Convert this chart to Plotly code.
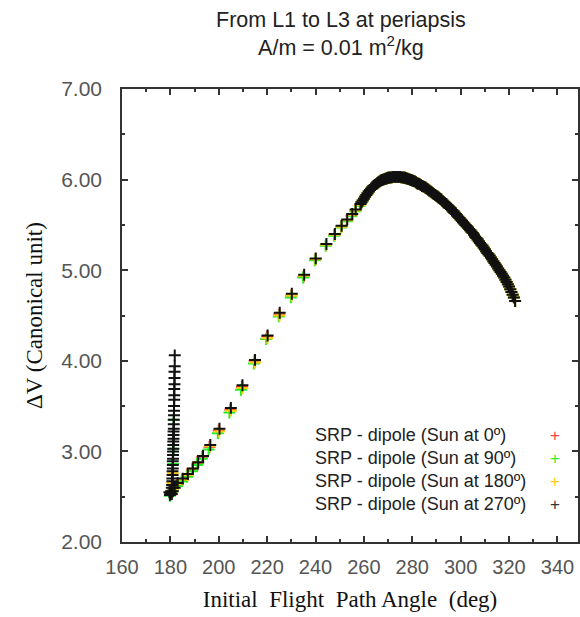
import plotly.graph_objects as go

# ---- data ----
# shared dense arc (all four Sun positions overlap here)
arc_x = [259.0, 259.5, 260.0, 260.5, 261.0, 261.5, 262.0, 262.5, 263.0, 263.5, 264.0, 264.5,
         265.0, 265.5, 266.0, 266.5, 267.0, 267.5, 268.0, 268.5, 269.0, 269.5, 270.0, 270.5,
         271.0, 271.5, 272.0, 272.5, 273.0, 273.5, 274.0, 274.5, 275.0, 275.5, 276.0, 276.5,
         277.0, 277.5, 278.0, 278.5, 279.0, 279.5, 280.0, 280.5, 281.0, 281.5, 282.0, 282.5,
         283.0, 283.5, 284.0, 284.5, 285.0, 285.5, 286.0, 286.5, 287.0, 287.5, 288.0, 288.5,
         289.0, 289.5, 290.0, 290.5, 291.0, 291.5, 292.0, 292.5, 293.0, 293.5, 294.0, 294.5,
         295.0, 295.5, 296.0, 296.5, 297.0, 297.5, 298.0, 298.5, 299.0, 299.5, 300.0, 300.5,
         301.0, 301.5, 302.0, 302.5, 303.0, 303.5, 304.0, 304.5, 305.0, 305.5, 306.0, 306.5,
         307.0, 307.5, 308.0, 308.5, 309.0, 309.5, 310.0, 310.5, 311.0, 311.5, 312.0, 312.5,
         313.0, 313.5, 314.0, 314.5, 315.0, 315.5, 316.0, 316.5, 317.0, 317.5, 318.0, 318.5,
         319.0, 319.5, 320.0, 320.5, 321.0, 321.5, 322.0, 322.5]
arc_y = [5.750, 5.770, 5.790, 5.810, 5.830, 5.850, 5.870, 5.885, 5.900, 5.915, 5.930, 5.940,
         5.950, 5.960, 5.970, 5.980, 5.990, 5.995, 6.000, 6.005, 6.010, 6.015, 6.020, 6.020,
         6.025, 6.025, 6.030, 6.030, 6.030, 6.030, 6.030, 6.030, 6.030, 6.025, 6.025, 6.020,
         6.020, 6.015, 6.010, 6.005, 6.000, 5.995, 5.990, 5.985, 5.980, 5.970, 5.960, 5.955,
         5.950, 5.940, 5.930, 5.925, 5.920, 5.910, 5.900, 5.890, 5.880, 5.870, 5.860, 5.850,
         5.840, 5.830, 5.820, 5.810, 5.800, 5.790, 5.780, 5.765, 5.750, 5.740, 5.730, 5.715,
         5.700, 5.690, 5.680, 5.665, 5.650, 5.635, 5.620, 5.605, 5.590, 5.575, 5.560, 5.545,
         5.530, 5.515, 5.500, 5.485, 5.470, 5.455, 5.440, 5.425, 5.410, 5.390, 5.370, 5.355,
         5.340, 5.320, 5.300, 5.285, 5.270, 5.250, 5.230, 5.210, 5.190, 5.175, 5.160, 5.140,
         5.120, 5.100, 5.080, 5.060, 5.040, 5.020, 5.000, 4.980, 4.960, 4.940, 4.920, 4.895,
         4.870, 4.845, 4.820, 4.790, 4.760, 4.730, 4.700, 4.660]

# rising branch, per series
red_x = [180.0, 180.4, 181.0, 182.8, 184.9, 187.0, 189.1, 191.3, 193.2, 196.2, 200.0,
         204.8, 209.6, 214.8, 220.0, 225.0, 230.0, 235.1, 239.9, 244.3, 247.8, 250.6,
         253.0, 255.0, 256.5, 258.4]
red_y = [2.52, 2.55, 2.58, 2.63, 2.68, 2.74, 2.80, 2.87, 2.94, 3.05, 3.23, 3.46, 3.71,
         4.00, 4.27, 4.51, 4.72, 4.93, 5.12, 5.28, 5.39, 5.48, 5.55, 5.61, 5.66, 5.72]

green_x = [179.8, 180.3, 180.9, 182.6, 184.7, 186.8, 189.0, 191.0, 193.0, 195.8, 199.6,
           204.4, 209.2, 214.5, 219.6, 224.8, 229.8, 234.9, 239.7, 244.2, 247.7, 250.5,
           252.9, 254.9, 256.4, 258.3, 181.4, 181.3, 181.1]
green_y = [2.51, 2.54, 2.57, 2.62, 2.67, 2.72, 2.78, 2.85, 2.92, 3.02, 3.20, 3.43, 3.68,
           3.97, 4.24, 4.49, 4.70, 4.92, 5.11, 5.27, 5.38, 5.47, 5.54, 5.60, 5.65, 5.71,
           3.35, 3.03, 2.86]

yellow_x = [180.1, 180.5, 181.1, 182.9, 185.0, 187.1, 189.2, 191.4, 193.4, 196.4, 200.2,
            205.0, 209.8, 215.0, 220.1, 225.1, 230.1, 235.2, 240.0, 244.4, 247.9, 250.7,
            253.0, 255.1, 256.5, 258.5, 181.0, 180.8]
yellow_y = [2.53, 2.56, 2.59, 2.64, 2.69, 2.74, 2.81, 2.88, 2.95, 3.06, 3.22, 3.45, 3.70,
            3.98, 4.25, 4.50, 4.72, 4.94, 5.12, 5.28, 5.39, 5.48, 5.55, 5.61, 5.66, 5.72,
            2.76, 2.65]

black_x = [179.6, 179.8, 180.0, 180.3, 180.6, 181.0, 181.8, 183.0, 185.1, 187.2, 189.3,
           191.5, 193.5, 196.5, 200.3, 205.0, 209.8, 215.0, 220.2, 225.2, 230.2, 235.3,
           240.1, 244.5, 248.0, 250.8, 253.1, 255.2, 256.6, 258.6,
           # vertical spike near 181 deg
           181.8, 181.8, 181.7, 181.7, 181.7, 181.6, 181.6, 181.6, 181.5, 181.5, 181.5,
           181.4, 181.4, 181.4, 181.3, 181.3, 181.3, 181.2, 181.2, 181.2, 181.1, 181.1,
           181.1, 181.0, 181.0, 181.0, 180.9, 180.9, 180.8, 180.8, 180.7, 180.6]
black_y = [2.55, 2.52, 2.54, 2.56, 2.53, 2.56, 2.60, 2.65, 2.70, 2.75, 2.81, 2.88, 2.95,
           3.07, 3.25, 3.48, 3.73, 4.01, 4.28, 4.53, 4.74, 4.95, 5.13, 5.29, 5.40, 5.49,
           5.56, 5.62, 5.67, 5.73,
           4.06, 3.94, 3.88, 3.81, 3.74, 3.69, 3.62, 3.57, 3.50, 3.45, 3.40, 3.35, 3.30,
           3.25, 3.22, 3.18, 3.14, 3.11, 3.07, 3.03, 3.00, 2.96, 2.92, 2.89, 2.85, 2.81,
           2.78, 2.74, 2.70, 2.67, 2.63, 2.60]

series_names = ["SRP - dipole (Sun at 0º)", "SRP - dipole (Sun at 90º)",
                "SRP - dipole (Sun at 180º)", "SRP - dipole (Sun at 270º)"]
series_colors = ["#ff2a2a", "#22ee22", "#ffcc11", "#111111"]
legend_colors = ["#ff4040", "#33ee33", "#ffcc22", "#333333"]

x_ticks = [160, 180, 200, 220, 240, 260, 280, 300, 320, 340]
y_ticks = [2, 3, 4, 5, 6, 7]

series = [
    (red_x + arc_x, red_y + arc_y),
    (green_x + arc_x, green_y + arc_y),
    (yellow_x + arc_x, yellow_y + arc_y),
    (black_x + arc_x, black_y + arc_y),
]

fig = go.Figure()
for (sx, sy), name, col in zip(series, series_names, series_colors):
    fig.add_trace(go.Scatter(
        x=sx, y=sy, mode="markers", name=name, showlegend=False,
        marker=dict(symbol="cross-thin", size=8.5, line=dict(width=2, color=col), color=col),
    ))

# legend drawn as text with symbols on the right (as in the reference)
L, R, T, B = 122, 580, 89, 542
W, H = R - L, B - T
rows_py = [435, 458, 481, 504]
for name, col, py in zip(series_names, legend_colors, rows_py):
    fig.add_annotation(x=(314 - L) / W, y=(B - py) / H, xref="paper", yref="paper",
                       text=name, showarrow=False, xanchor="left", yanchor="middle",
                       font=dict(family="Liberation Sans, Arial", size=18, color="#222"))
    fig.add_annotation(x=(557 - L) / W, y=(B - py) / H, xref="paper", yref="paper",
                       text="+", showarrow=False, xanchor="center", yanchor="middle",
                       font=dict(family="Liberation Sans, Arial", size=17, color=col))

fig.add_annotation(x=(342 - L) / W, y=(B - 34) / H, xref="paper", yref="paper",
                   text="From L1 to L3 at periapsis<br>A/m = 0.01 m<sup>2</sup>/kg",
                   showarrow=False, xanchor="center", yanchor="middle",
                   font=dict(family="Liberation Sans, Arial", size=21.5, color="#222"))

axis_common = dict(showline=True, linecolor="#333", linewidth=1.5, ticks="inside",
                   ticklen=6, tickwidth=1.5, tickcolor="#333", mirror="ticks",
                   showgrid=False, zeroline=False)

fig.update_xaxes(range=[160, 348.5], tickvals=x_ticks, ticklabelstandoff=6,
                 tickfont=dict(family="Liberation Sans, Arial", size=20, color="#555"),
                 minor=dict(dtick=10, ticks="inside", ticklen=3, tickcolor="#333", tickwidth=1.5),
                 title=dict(text="Initial  Flight  Path Angle  (deg)", standoff=14,
                            font=dict(family="Liberation Serif, Times New Roman", size=23, color="#111")),
                 **axis_common)
fig.update_yaxes(range=[2, 7], tickvals=y_ticks, tickformat=".2f", ticklabelstandoff=14,
                 tickfont=dict(family="Liberation Sans, Arial", size=21, color="#555"),
                 minor=dict(dtick=0.5, ticks="inside", ticklen=3, tickcolor="#333", tickwidth=1.5),
                 title=dict(text="ΔV (Canonical unit)", standoff=12,
                            font=dict(family="Liberation Serif, Times New Roman", size=23, color="#111")),
                 **axis_common)

fig.update_layout(width=580, height=617, margin=dict(l=L, r=0, t=T, b=617 - B),
                  paper_bgcolor="white", plot_bgcolor="white")

fig.write_html("out.html")
